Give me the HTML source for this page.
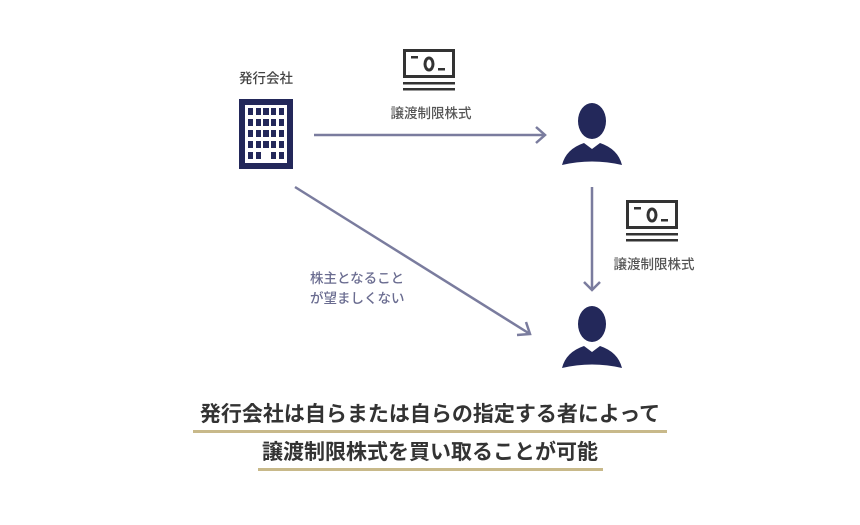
<!DOCTYPE html>
<html><head><meta charset="utf-8"><style>
body{margin:0;background:#fff;width:860px;height:520px;overflow:hidden}
text{font-family:"Liberation Sans","Noto Sans CJK JP",sans-serif}
</style></head><body>
<svg width="860" height="520" viewBox="0 0 860 520" xmlns="http://www.w3.org/2000/svg">
<defs><g id="money">
<rect x="1.5" y="1.5" width="49" height="26" fill="none" stroke="#333" stroke-width="3"/>
<rect x="8" y="7" width="7" height="2.5" fill="#333"/>
<ellipse cx="26" cy="15" rx="4" ry="6" fill="none" stroke="#333" stroke-width="3"/>
<rect x="35" y="19" width="7" height="2.5" fill="#333"/>
<rect x="0" y="33" width="52" height="2.5" fill="#333"/>
<rect x="0" y="39" width="52" height="2.5" fill="#333"/>
</g>
<g id="person" fill="#23285a">
<ellipse cx="0" cy="0" rx="14" ry="18"/>
<path d="M-30 44 Q-26 28 -8 22 L0 28 L8 22 Q26 28 30 44 Q0 37 -30 44 Z"/>
</g></defs>
<text x="266" y="83" font-size="13.5" font-weight="500" fill="#444" text-anchor="middle">発行会社</text>
<rect x="239" y="99" width="54" height="70" fill="#23285a"/>
<rect x="245" y="105" width="42" height="58" fill="#fff"/>
<g fill="#23285a">
<g id="row"><rect x="248" y="108" width="5" height="7"/><rect x="256" y="108" width="5" height="7"/><rect x="263" y="108" width="6" height="7"/><rect x="271" y="108" width="5" height="7"/><rect x="279" y="108" width="5" height="7"/></g>
<use href="#row" y="11"/><use href="#row" y="22"/><use href="#row" y="33"/>
<rect x="248" y="152" width="5" height="7"/><rect x="256" y="152" width="5" height="7"/><rect x="271" y="152" width="5" height="7"/><rect x="279" y="152" width="5" height="7"/>
</g>
<use href="#money" x="403" y="49"/>
<text x="431" y="118" font-size="13.5" font-weight="500" fill="#555" text-anchor="middle">譲渡制限株式</text>
<use href="#person" x="592" y="121"/>
<use href="#money" x="626" y="200"/>
<text x="654" y="269" font-size="13.5" font-weight="500" fill="#555" text-anchor="middle">譲渡制限株式</text>
<use href="#person" x="592" y="324"/>
<g stroke="#7a7c9e" stroke-width="2.5" fill="none">
<line x1="314" y1="135" x2="545" y2="135"/>
<polyline points="536,127 545,135 536,143"/>
<line x1="592" y1="187" x2="592" y2="290"/>
<polyline points="584,282 592,290 600,282"/>
<line x1="295" y1="187" x2="530" y2="334"/>
<polyline points="517,335 530,334 526,322"/>
</g>
<text x="310" y="283" font-size="13.5" font-weight="500" fill="#6a6c90">株主となること</text>
<text x="310" y="303" font-size="13.5" font-weight="500" fill="#6a6c90">が望ましくない</text>
<text x="430" y="421" font-size="21" font-weight="bold" fill="#333" text-anchor="middle">発行会社は自らまたは自らの指定する者によって</text>
<rect x="193" y="430" width="474" height="3" fill="#c8b98a"/>
<text x="430" y="459" font-size="21" font-weight="bold" fill="#333" text-anchor="middle">譲渡制限株式を買い取ることが可能</text>
<rect x="258" y="468" width="345" height="3" fill="#c8b98a"/>
</svg>
</body></html>
